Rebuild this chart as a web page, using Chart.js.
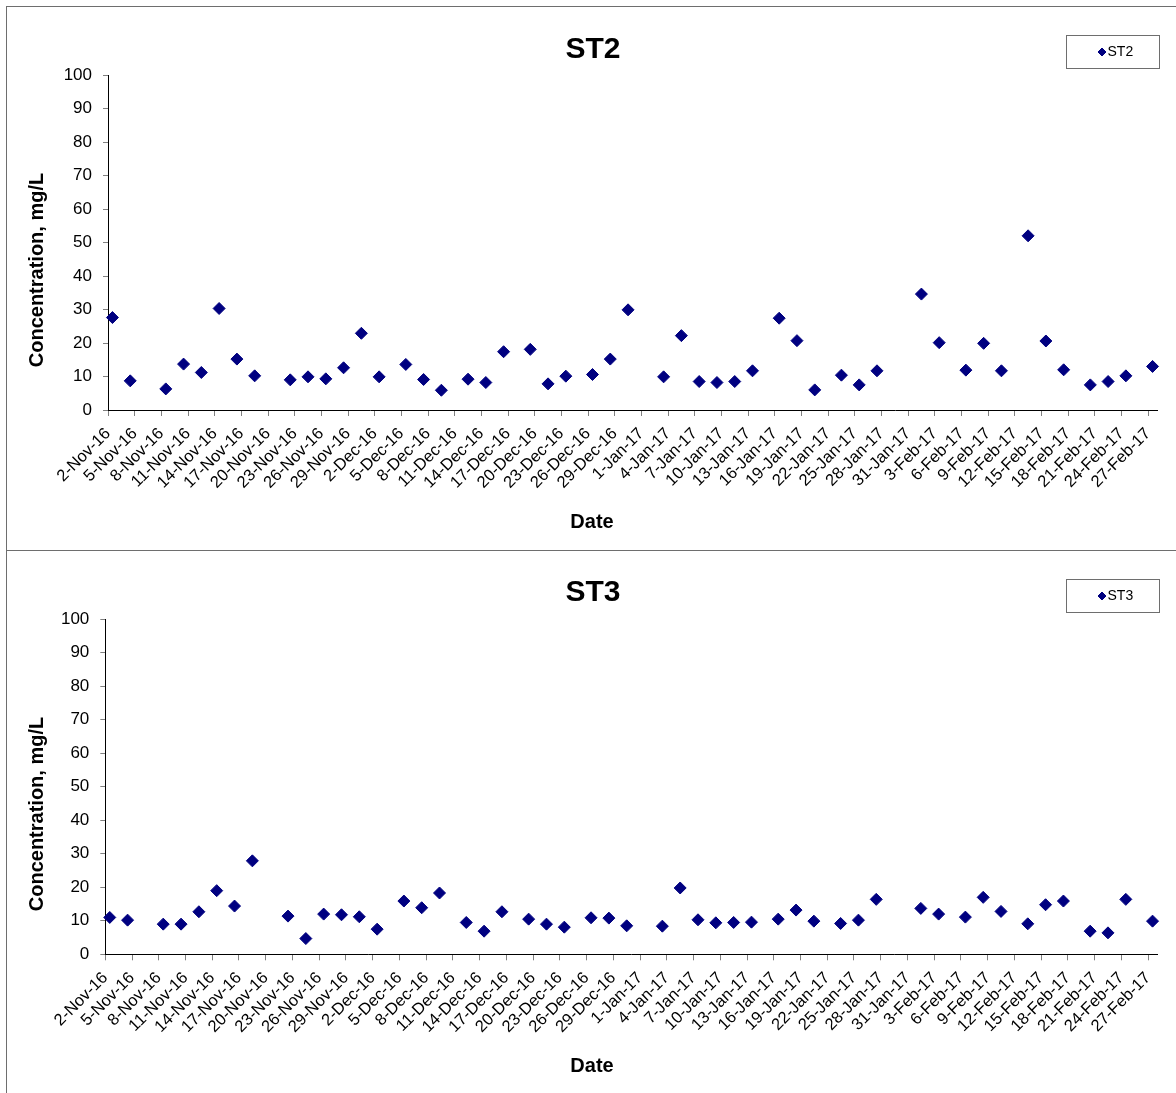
<!DOCTYPE html>
<html>
<head>
<meta charset="utf-8">
<script src="https://cdn.jsdelivr.net/npm/chart.js@4.4.1/dist/chart.umd.min.js"></script>
<style>
  html, body { margin: 0; padding: 0; background: #fff; overflow: hidden; }
  .panel { position: absolute; left: 6px; width: 1200px; border-left: 1px solid #6e6e6e; border-top: 1px solid #6e6e6e; }
  #p1 { top: 6px; height: 543px; }
  #p2 { top: 550px; height: 542px; }
  canvas { display: block; }
</style>
</head>
<body>
<div class="panel" id="p1"><canvas id="chartST2" width="1169" height="543"></canvas></div>
<div class="panel" id="p2"><canvas id="chartST3" width="1169" height="542"></canvas></div>
<script>
// sampling dates (same for both stations)
const sampleDates = [
  '2016-11-02', '2016-11-04', '2016-11-08', '2016-11-10', '2016-11-12', '2016-11-14',
  '2016-11-16', '2016-11-18', '2016-11-22', '2016-11-24', '2016-11-26', '2016-11-28',
  '2016-11-30', '2016-12-02', '2016-12-05', '2016-12-07', '2016-12-09', '2016-12-12',
  '2016-12-14', '2016-12-16', '2016-12-19', '2016-12-21', '2016-12-23', '2016-12-26',
  '2016-12-28', '2016-12-30', '2017-01-03', '2017-01-05', '2017-01-07', '2017-01-09',
  '2017-01-11', '2017-01-13', '2017-01-16', '2017-01-18', '2017-01-20', '2017-01-23',
  '2017-01-25', '2017-01-27', '2017-02-01', '2017-02-03', '2017-02-06', '2017-02-08',
  '2017-02-10', '2017-02-13', '2017-02-15', '2017-02-17', '2017-02-20', '2017-02-22',
  '2017-02-24', '2017-02-27'
];

// concentration, mg/L
const st2Values = [
  27.6, 8.7, 6.3, 13.7, 11.2, 30.3, 15.2, 10.2, 9.0, 9.9, 9.3, 12.6, 22.9,
  9.9, 13.6, 9.1, 5.9, 9.2, 8.2, 17.4, 18.1, 7.8, 10.1, 10.6, 15.2, 29.9,
  9.9, 22.2, 8.5, 8.2, 8.5, 11.7, 27.4, 20.7, 6.0, 10.4, 7.5, 11.7,
  34.6, 20.1, 11.9, 19.9, 11.7, 52.0, 20.6, 12.0, 7.5, 8.5, 10.2, 13.0
];
const st3Values = [
  11.0, 10.2, 9.0, 9.0, 12.7, 19.0, 14.4, 27.9, 11.4, 4.7, 12.0, 11.8, 11.2,
  7.5, 15.9, 13.9, 18.3, 9.5, 6.9, 12.7, 10.5, 9.0, 8.1, 10.9, 10.8, 8.5,
  8.4, 19.8, 10.3, 9.4, 9.5, 9.6, 10.5, 13.2, 9.9, 9.2, 10.2, 16.4,
  13.7, 12.0, 11.1, 17.0, 12.8, 9.1, 14.8, 15.9, 6.9, 6.4, 16.4, 9.9
];

// axis range: 2-Nov-16 .. 28-Feb-17, a tick label every 3 days
const axisStart = '2016-11-02';
const axisEnd = '2017-02-28';
const tickStepDays = 3;
const yTicks = [0, 10, 20, 30, 40, 50, 60, 70, 80, 90, 100];

const FONT = '"Liberation Sans", Arial, Helvetica, sans-serif';
const MONTHS = ['Jan', 'Feb', 'Mar', 'Apr', 'May', 'Jun', 'Jul', 'Aug', 'Sep', 'Oct', 'Nov', 'Dec'];
const DAY = 86400000;

function utc(iso) {
  const [y, m, d] = iso.split('-').map(Number);
  return Date.UTC(y, m - 1, d);
}
const base = utc(axisStart);
const dayOf = iso => (utc(iso) - base) / DAY;
function fmtDay(v) {
  const t = new Date(base + v * DAY);
  return t.getUTCDate() + '-' + MONTHS[t.getUTCMonth()] + '-' + String(t.getUTCFullYear()).slice(2);
}

// axis titles sit where Excel put them, not centred on the plot
const axisTitles = {
  id: 'axisTitles',
  afterDraw(chart, args, opts) {
    const ctx = chart.ctx;
    ctx.save();
    ctx.fillStyle = '#000';
    ctx.font = 'bold 20px ' + FONT;
    ctx.textAlign = 'center';
    ctx.textBaseline = 'middle';
    ctx.fillText(opts.x, chart.width / 2 + 0.5, opts.xTitleY);
    ctx.translate(opts.yTitleX, opts.yTitleY);
    ctx.rotate(-Math.PI / 2);
    ctx.fillText(opts.y, 0, 0);
    ctx.restore();
  }
};

// boxed legend in the top right corner
const boxLegend = {
  id: 'boxLegend',
  afterDraw(chart) {
    const ds = chart.data.datasets[0];
    const ctx = chart.ctx;
    const w = 93, h = 33;
    const left = chart.width - 17 - w, top = 28;
    ctx.save();
    ctx.strokeStyle = '#6e6e6e';
    ctx.lineWidth = 1;
    ctx.strokeRect(left + 0.5, top + 0.5, w, h);
    ctx.fillStyle = ds.backgroundColor;
    ctx.strokeStyle = ds.borderColor;
    Chart.helpers.drawPoint(ctx, { pointStyle: 'rectRot', radius: 4, borderWidth: 1, rotation: 0 }, left + 36, top + 17);
    ctx.fillStyle = '#000';
    ctx.font = '14px ' + FONT;
    ctx.textAlign = 'left';
    ctx.textBaseline = 'middle';
    ctx.fillText(ds.label, left + 41.5, top + 17);
    ctx.restore();
  }
};

function makeChart(id, label, values, g) {
  const points = sampleDates.map((d, i) => ({ x: dayOf(d) + 0.5, y: values[i] }));
  const lastTick = dayOf(axisEnd) - 1;
  return new Chart(document.getElementById(id), {
    type: 'scatter',
    data: {
      datasets: [{
        label: label,
        data: points,
        pointStyle: 'rectRot',
        pointRadius: 6,
        pointHoverRadius: 6,
        borderWidth: 1,
        backgroundColor: '#000080',
        borderColor: '#000080',
        clip: false
      }]
    },
    options: {
      responsive: false,
      animation: false,
      layout: { padding: { left: 22, right: 19, top: 0, bottom: 0 } },
      plugins: {
        legend: { display: false },
        tooltip: { enabled: false },
        title: {
          display: true,
          text: label,
          color: '#000',
          font: { family: FONT, size: 30, weight: 'bold', lineHeight: 1.2 },
          padding: { top: g.titleTop, bottom: g.titleBottom }
        },
        axisTitles: { x: 'Date', y: 'Concentration, mg/L', xTitleY: 515, yTitleX: 30, yTitleY: 263 }
      },
      scales: {
        x: {
          type: 'linear',
          min: 0,
          max: dayOf(axisEnd),
          afterBuildTicks: s => {
            s.ticks = [];
            for (let v = 0; v <= lastTick; v += tickStepDays) s.ticks.push({ value: v });
          },
          afterFit: s => { s.height = g.xAxisHeight; },
          grid: { drawOnChartArea: false, drawTicks: true, tickLength: 6, color: '#808080' },
          border: { display: true, color: '#000', width: 1 },
          ticks: {
            autoSkip: false,
            minRotation: 45,
            maxRotation: 45,
            padding: 8,
            color: '#000',
            font: { family: FONT, size: 16.5 },
            callback: v => fmtDay(v)
          }
        },
        y: {
          min: 0,
          max: 100,
          afterBuildTicks: s => { s.ticks = yTicks.map(v => ({ value: v })); },
          afterFit: s => { s.width = g.yAxisWidth; },
          grid: { drawOnChartArea: false, drawTicks: true, tickLength: 5, color: '#808080' },
          border: { display: true, color: '#000', width: 1 },
          ticks: { padding: 11, color: '#000', font: { family: FONT, size: 17 } }
        }
      }
    },
    plugins: [axisTitles, boxLegend]
  });
}

makeChart('chartST2', 'ST2', st2Values, { titleTop: 24.5, titleBottom: 7.5, xAxisHeight: 140, yAxisWidth: 79 });
makeChart('chartST3', 'ST3', st3Values, { titleTop: 24, titleBottom: 8.3, xAxisHeight: 138.7, yAxisWidth: 76.3 });
</script>
</body>
</html>
